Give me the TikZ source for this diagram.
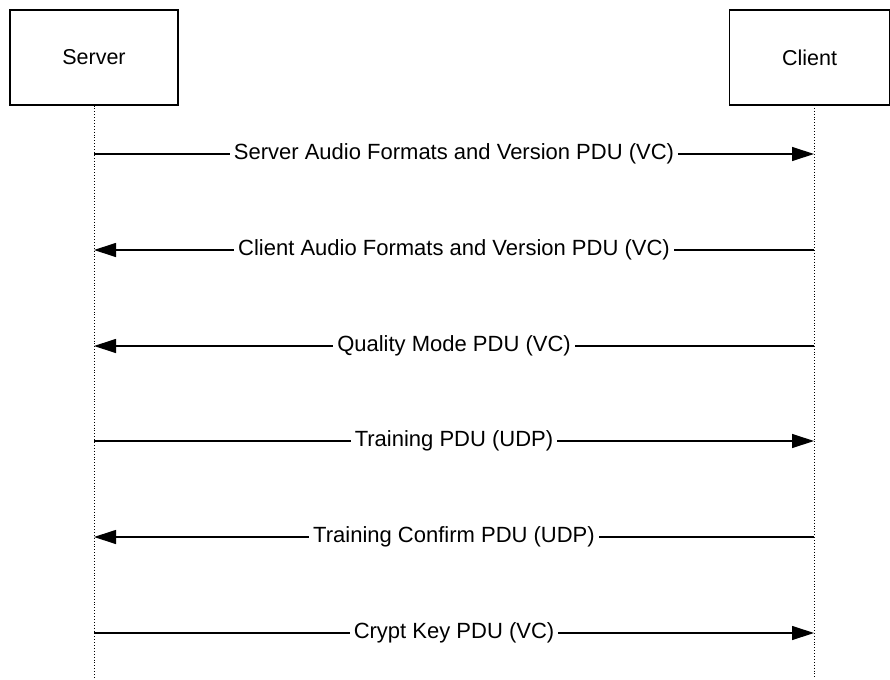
\documentclass[tikz,border=0pt]{standalone}
\usepackage{fontspec}
\setmainfont{Liberation Sans}
\usetikzlibrary{arrows.meta}
\begin{document}
\begin{tikzpicture}[x=1pt,y=-1pt,
  actor/.style={draw,line width=1.2pt,minimum width=168pt,minimum height=95pt,inner sep=0pt,font=\fontsize{21.5}{24}\selectfont},
  life/.style={line width=0.9pt,dotted},
  msg/.style={line width=1.2pt,-{Triangle[length=22pt,width=14pt]}},
  lbl/.style={fill=white,inner sep=4pt,font=\fontsize{22}{25}\selectfont}]
\useasboundingbox (0,0) rectangle (890,679);
\node[actor] (srv) at (94,57.5) {Server};
\node[actor,minimum width=160pt] (cli) at (809.5,57.5) {Client};
\coordinate (srvend) at (94,679);
\coordinate (cliend) at (814,679);
\draw[life] (srv.south) -- (srvend);
\draw[life] (814,105) -- (cliend);
\foreach \i/\y in {1/154,2/250,3/346,4/441,5/537,6/633}{
  \coordinate (s\i) at (94,\y);
  \coordinate (c\i) at (814,\y);
}
\draw[msg] (s1) -- node[lbl] {Server Audio Formats and Version PDU (VC)} (c1);
\draw[msg] (c2) -- node[lbl] {Client Audio Formats and Version PDU (VC)} (s2);
\draw[msg] (c3) -- node[lbl] {Quality Mode PDU (VC)} (s3);
\draw[msg] (s4) -- node[lbl] {Training PDU (UDP)} (c4);
\draw[msg] (c5) -- node[lbl] {Training Confirm PDU (UDP)} (s5);
\draw[msg] (s6) -- node[lbl] {Crypt Key PDU (VC)} (c6);
\end{tikzpicture}
\end{document}
